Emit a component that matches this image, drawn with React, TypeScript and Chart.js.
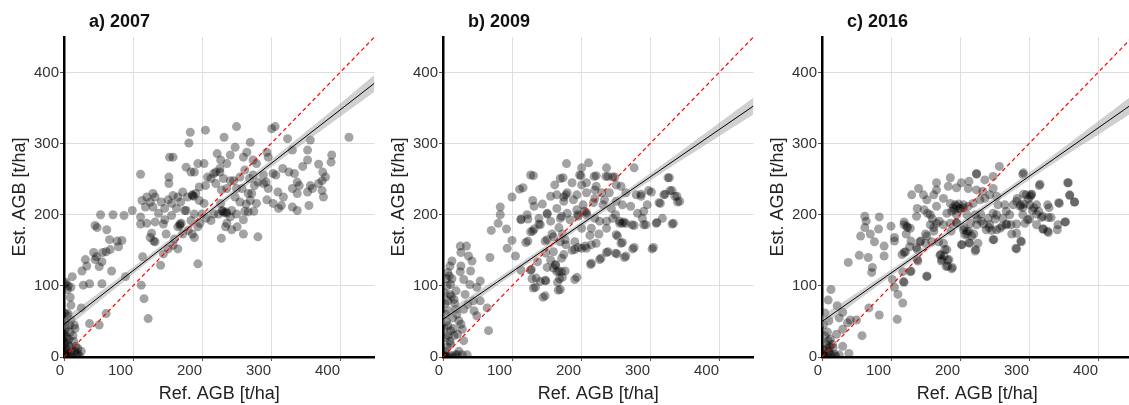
import React, { useEffect, useRef } from "react";
import { Chart, registerables } from "chart.js";

Chart.register(...registerables);

const FONT = "'Liberation Sans', Arial, Helvetica, sans-serif";

const axisTicks = [0, 100, 200, 300, 400];
const axisMin = 0;
const axisMax = 450;
const xTitle = "Ref. AGB [t/ha]";
const yTitle = "Est. AGB [t/ha]";
const panelTitles = ["a) 2007", "b) 2009", "c) 2016"];

// 1:1 reference line
const oneToOne = [0, 450];

// fitted regression line end points (x = fitX)
const fitX = [0, 450];
const fit2007 = [46, 385];
const fit2009 = [53, 353];
const fit2016 = [50, 356];

// confidence band (x = bandX)
const bandX = [0, 75, 150, 225, 300, 375, 450];
const upper2007 = [54, 108, 163, 219, 277, 336, 397];
const lower2007 = [38, 97, 155, 211, 267, 320, 373];
const upper2009 = [61, 108, 157, 207, 258, 311, 365];
const lower2009 = [45, 98, 149, 199, 248, 295, 341];
const upper2016 = [58, 106, 156, 207, 259, 313, 368];
const lower2016 = [42, 96, 148, 199, 249, 297, 344];

// [Ref. AGB, Est. AGB]
const points2007: [number, number][] = [
  [413,309],[250,324],[205,319],[183,316],[181,301],[232,309],[301,321],[306,324],[270,302],[324,307],[357,305],[294,288],[296,281],[331,291],[353,291],[388,284],[387,274],[369,271],[346,268],[353,277],[317,265],[326,260],[334,258],[375,260],[379,253],[374,248],[369,244],[357,241],[338,246],[341,241],[331,237],[338,230],[353,232],[360,237],[374,234],[376,225],[355,213],[331,211],[338,206],[315,213],[311,209],[318,225],[307,256],[303,258],[310,232],[294,221],[289,244],[281,246],[276,241],[289,256],[279,272],[274,277],[260,281],[265,288],[248,295],[241,284],[236,272],[227,277],[226,265],[220,260],[203,272],[194,272],[189,260],[184,260],[177,267],[153,281],[158,281],[152,253],[152,244],[111,257],[132,225],[113,220],[125,218],[141,218],[129,230],[120,225],[99,206],[87,199],[71,200],[53,200],[45,185],[48,182],[62,179],[66,165],[77,163],[84,164],[79,155],[67,151],[61,148],[56,147],[43,147],[47,141],[45,137],[31,137],[33,128],[51,127],[55,134],[69,121],[26,121],[12,113],[28,101],[37,103],[6,100],[1,103],[9,84],[10,73],[25,69],[55,103],[89,113],[112,101],[116,82],[114,141],[122,54],[51,45],[37,47],[61,61],[16,40],[6,61],
  [194,131],[140,129],[144,145],[130,163],[127,174],[132,190],[120,188],[111,187],[111,197],[144,187],[148,173],[160,166],[165,152],[158,157],[151,152],[146,193],[156,199],[165,183],[168,187],[172,173],[189,168],[186,173],[184,192],[175,206],[169,218],[151,221],[158,227],[156,216],[165,225],[172,232],[179,225],[186,227],[191,230],[196,239],[196,220],[203,216],[200,201],[206,195],[197,188],[213,192],[217,201],[208,253],[213,251],[217,258],[205,241],[220,244],[228,235],[231,251],[236,237],[227,216],[224,201],[229,206],[235,204],[243,206],[250,201],[241,197],[236,188],[228,167],[234,183],[243,179],[251,183],[260,173],[260,193],[267,204],[275,205],[279,216],[270,220],[264,215],[255,218],[248,225],[258,237],[267,230],[281,169],[272,230],[250,237],[246,248],[255,253],[269,251],[262,263],[222,286],[226,260],[241,248],[177,206],[163,209],[146,209],[137,202],[118,211],[129,211],[125,168],[132,162],[189,201],[194,183],[180,178],[274,256],[293,246],[296,237],[303,216],
  [168,185],[170,188],[186,228],[188,226],[230,205],[232,203],[236,202],[262,205],
  [2,5],[3,12],[5,20],[1,30],[4,8],[6,2],[8,15],[10,5],[12,10],[7,25],[3,40],[2,50],[5,58],[9,35],[14,22],[16,8],[18,3],[20,12],[11,0],[6,0],[1,1],[3,3],[2,18],[4,28],[13,30],[15,45],[8,45],[1,62],[10,52],[20,5],[22,2],[25,8],[17,15],[0,8],[0,20],[0,35],[1,45],[5,95],[10,98],[3,105]
];

const points2009: [number, number][] = [
  [179,272],[201,266],[211,273],[237,266],[277,266],[131,255],[200,255],[222,255],[239,254],[249,253],[328,252],[332,234],[339,226],[343,219],[322,229],[334,188],[315,216],[310,189],[305,154],[296,214],[287,229],[298,234],[291,205],[294,186],[277,185],[277,154],[265,142],[252,145],[260,161],[253,170],[229,139],[239,148],[215,132],[206,156],[215,158],[196,154],[191,151],[194,112],[170,95],[166,105],[173,112],[168,121],[163,130],[177,121],[149,107],[148,86],[151,126],[135,111],[134,98],[128,123],[123,163],[105,142],[100,164],[93,153],[80,188],[83,200],[83,211],[70,178],[92,180],[100,225],[111,236],[116,238],[113,194],[123,194],[130,220],[132,180],[144,215],[151,201],[139,187],[151,165],[168,182],[158,173],[173,173],[177,165],[175,144],[68,140],[66,37],[64,69],[49,58],[49,98],[54,107],[40,121],[42,135],[37,142],[34,156],[25,156],[26,147],[26,128],[30,109],[39,102],[32,88],[36,74],[30,67],[13,135],[9,114],[11,102],[13,110],[7,119],[19,93],[16,81],[7,79],[19,67],[14,55],[23,51],[28,39],[26,46],[11,37],[7,44],[21,32],[30,23],[4,27],[11,18],[54,79],[45,65],[44,79],[28,3],[35,3],[21,3],
  [127,256],[170,251],[174,252],[198,256],[219,254],[236,254],[246,253],[162,242],[187,245],[201,242],[208,245],[222,240],[251,242],[258,240],[156,226],[165,228],[180,231],[194,228],[208,231],[220,235],[230,231],[241,231],[265,231],[280,228],[287,226],[302,232],[320,228],[329,234],[326,252],[336,226],[340,218],[313,217],[318,195],[332,187],[309,188],[291,186],[274,186],[256,188],[251,172],[258,160],[275,152],[303,152],[263,140],[250,146],[237,147],[227,137],[214,130],[222,160],[213,171],[226,173],[215,181],[237,181],[201,181],[191,162],[201,153],[208,153],[187,150],[178,158],[170,162],[160,169],[148,163],[120,161],[130,177],[141,186],[156,191],[170,195],[184,193],[196,198],[208,200],[220,195],[227,191],[237,191],[246,195],[256,191],[260,188],[244,209],[251,219],[260,214],[272,212],[282,202],[289,195],[232,214],[218,217],[203,214],[194,207],[180,202],[165,209],[151,202],[139,195],[132,212],[122,200],[113,193],[127,176],[175,219],[189,221],[220,223],[234,221],[160,125],[167,94],[145,84],[131,97],[141,106],[148,108],[169,110],[165,120],[172,120],[163,129],[191,109],[172,139],[156,136],[149,146],[160,148],[137,134],[127,122],[129,110],[113,122],
  [175,225],[178,228],[205,205],[208,203],[262,190],[265,188],[250,200],[195,200],[172,198],
  [2,2],[5,0],[8,1],[12,2],[15,0],[18,3],[3,8],[6,14],[10,22],[1,0],[4,1],[0,3],[2,40],[4,60],[3,75],[8,65],[10,88],[6,100],[12,85],[17,75],[20,60],[15,40],[8,30],[5,50],[5,110],[10,128],[2,90],[25,120],[16,30],[23,8]
];

const points2016: [number, number][] = [
  [257,268],[224,258],[292,259],[357,245],[359,228],[366,218],[352,190],[341,179],[343,217],[329,210],[328,196],[316,243],[304,229],[292,229],[282,219],[287,212],[293,215],[299,222],[307,210],[314,205],[318,196],[321,180],[328,175],[311,214],[294,188],[301,194],[282,187],[275,173],[281,153],[288,163],[268,187],[261,184],[251,194],[249,165],[246,178],[242,182],[234,187],[225,194],[230,201],[223,151],[213,161],[220,173],[210,173],[206,182],[203,158],[210,177],[215,188],[195,189],[187,177],[181,151],[177,142],[189,126],[182,128],[184,137],[174,137],[172,144],[162,182],[170,191],[160,194],[153,202],[150,173],[143,163],[138,151],[138,137],[129,121],[152,114],[119,105],[119,147],[122,173],[119,186],[124,182],[129,163],[117,120],[105,98],[102,109],[110,88],[117,76],[109,53],[105,168],[105,163],[100,184],[90,156],[83,197],[82,180],[90,142],[76,162],[70,173],[62,198],[64,191],[62,182],[56,170],[54,143],[67,140],[73,126],[72,119],[38,133],[50,52],[58,30],[68,69],[83,59],[13,95],[9,80],[22,72],[30,63],[25,55],[37,48],[41,52],[30,39],[21,32],[9,23],[16,13],[4,62],[10,51],[30,15],[39,5],[18,4],[25,3],[12,3],
  [186,252],[224,257],[236,249],[213,247],[248,254],[291,257],[315,241],[356,245],[359,227],[366,218],[344,216],[327,214],[342,186],[327,177],[320,180],[353,190],[332,196],[320,198],[311,201],[305,206],[301,214],[296,228],[303,228],[283,223],[288,214],[291,210],[277,214],[265,214],[253,226],[255,214],[272,200],[253,200],[248,202],[241,195],[231,191],[224,186],[243,186],[253,179],[258,181],[267,186],[274,186],[282,174],[289,162],[282,152],[248,165],[238,179],[217,170],[213,177],[207,172],[202,158],[214,160],[226,160],[222,149],[205,179],[195,188],[186,188],[176,186],[166,188],[157,186],[162,177],[169,162],[176,160],[178,151],[171,143],[173,135],[180,127],[188,124],[182,136],[152,170],[150,160],[142,162],[137,154],[127,155],[123,184],[128,181],[119,190],[121,148],[116,144],[139,135],[128,120],[118,106],[152,113],[159,162],[137,198],[148,207],[138,209],[130,228],[140,237],[147,228],[152,221],[162,228],[166,235],[166,245],[183,240],[195,238],[202,245],[212,237],[224,235],[233,233],[243,228],[248,237],[176,223],[186,216],[193,214],[200,209],[205,214],[212,212],[219,216],[229,221],[236,223],[222,200],[210,200],[195,200],[181,202],[166,212],[157,200],[190,210],[195,212],[200,208],[188,205],[198,215],[205,210],[192,207],[267,205],[262,195],[291,200],[298,193],[311,186],[302,226],
  [2,2],[5,0],[8,1],[1,5],[3,10],[6,18],[10,8],[14,2],[20,1],[4,30],[8,35],[12,25],[2,45],[15,18],[7,12],[0,0],[3,0],[11,14]
];

const panelTitlePlugin = {
  id: "panelTitle",
  afterDraw(chart: any, _args: any, opts: any) {
    const ctx = chart.ctx;
    ctx.save();
    ctx.font = `bold 18px ${FONT}`;
    ctx.fillStyle = "#111";
    ctx.textAlign = "left";
    ctx.textBaseline = "middle";
    ctx.fillText(opts.text, chart.chartArea.left + 25, 22);
    ctx.restore();
  },
};

const AXIS_W = 64;
const PLOT_W = 315;
const CANVAS_W = AXIS_W + PLOT_W;
const CANVAS_H = 405;

type PanelProps = {
  title: string;
  points: [number, number][];
  fitY: number[];
  upper: number[];
  lower: number[];
  left: number;
};

function Panel({ title, points, fitY, upper, lower, left }: PanelProps) {
  const ref = useRef<HTMLCanvasElement | null>(null);
  useEffect(() => {
    if (!ref.current) return;
    const tickFont = { family: FONT, size: 15 };
    const titleFont = { family: FONT, size: 18 };
    const gridColor = (c: any) =>
      c.tick && c.tick.value === 0 ? "rgba(0,0,0,0)" : "#dedede";
    const chart = new Chart(ref.current, {
      type: "scatter",
      data: {
        datasets: [
          {
            type: "line",
            data: oneToOne.map((v) => ({ x: v, y: v })),
            borderColor: "#ff0000",
            borderWidth: 1.2,
            borderDash: [4, 3],
            pointRadius: 0,
            fill: false,
            clip: 0,
          } as any,
          {
            type: "line",
            data: fitX.map((x, i) => ({ x, y: fitY[i] })),
            borderColor: "#000",
            borderWidth: 1,
            pointRadius: 0,
            fill: false,
            clip: 0,
          } as any,
          {
            type: "line",
            data: bandX.map((x, i) => ({ x, y: upper[i] })),
            borderColor: "rgba(0,0,0,0)",
            borderWidth: 0,
            pointRadius: 0,
            tension: 0.4,
            fill: "+1",
            backgroundColor: "rgba(150,150,150,0.45)",
            clip: 0,
          } as any,
          {
            type: "line",
            data: bandX.map((x, i) => ({ x, y: lower[i] })),
            borderColor: "rgba(0,0,0,0)",
            borderWidth: 0,
            pointRadius: 0,
            tension: 0.4,
            fill: false,
            clip: 0,
          } as any,
          {
            type: "scatter",
            data: points.map(([x, y]) => ({ x, y })),
            backgroundColor: "rgba(0,0,0,0.36)",
            borderWidth: 0,
            pointRadius: 4.5,
            clip: 0,
          } as any,
        ],
      },
      options: {
        responsive: false,
        animation: false,
        events: [],
        layout: { padding: { top: 37, left: 0, right: 0, bottom: 0 } },
        plugins: {
          legend: { display: false },
          tooltip: { enabled: false },
          title: { display: false },
          panelTitle: { text: title },
        } as any,
        scales: {
          x: {
            type: "linear",
            min: axisMin,
            max: axisMax,
            afterBuildTicks: (s: any) => {
              s.ticks = axisTicks.map((v) => ({ value: v }));
            },
            afterFit: (s: any) => {
              s.height = CANVAS_H - 357;
            },
            grid: { color: gridColor, lineWidth: 1, tickColor: "#555", tickLength: 4 },
            border: { display: true, color: "#000", width: 2.5 },
            ticks: {
              align: "end",
              color: "#333",
              font: tickFont,
              padding: 1,
              maxRotation: 0,
              autoSkip: false,
            },
            title: {
              display: true,
              text: xTitle,
              color: "#222",
              font: titleFont,
              padding: { top: 0, bottom: 0 },
            },
          },
          y: {
            type: "linear",
            min: axisMin,
            max: axisMax,
            afterBuildTicks: (s: any) => {
              s.ticks = axisTicks.map((v) => ({ value: v }));
            },
            afterFit: (s: any) => {
              s.width = AXIS_W;
            },
            grid: { color: gridColor, lineWidth: 1, tickColor: "#555", tickLength: 4 },
            border: { display: true, color: "#000", width: 2.5 },
            ticks: { color: "#333", font: tickFont, padding: 1, autoSkip: false },
            title: {
              display: true,
              text: yTitle,
              color: "#222",
              font: titleFont,
              padding: { top: 9, bottom: 0 },
            },
          },
        },
      } as any,
      plugins: [panelTitlePlugin as any],
    });
    return () => chart.destroy();
  }, [title, points, fitY, upper, lower]);

  return (
    <canvas
      ref={ref}
      width={CANVAS_W}
      height={CANVAS_H}
      style={{
        position: "absolute",
        left,
        top: 0,
        width: CANVAS_W,
        height: CANVAS_H,
      }}
    />
  );
}

export default function App() {
  return (
    <div
      style={{
        position: "absolute",
        left: 0,
        top: 0,
        width: 1129,
        height: 405,
        overflow: "hidden",
        background: "#fff",
      }}
    >
      <Panel title={panelTitles[0]} points={points2007} fitY={fit2007} upper={upper2007} lower={lower2007} left={0} />
      <Panel title={panelTitles[1]} points={points2009} fitY={fit2009} upper={upper2009} lower={lower2009} left={CANVAS_W} />
      <Panel title={panelTitles[2]} points={points2016} fitY={fit2016} upper={upper2016} lower={lower2016} left={CANVAS_W * 2} />
    </div>
  );
}
